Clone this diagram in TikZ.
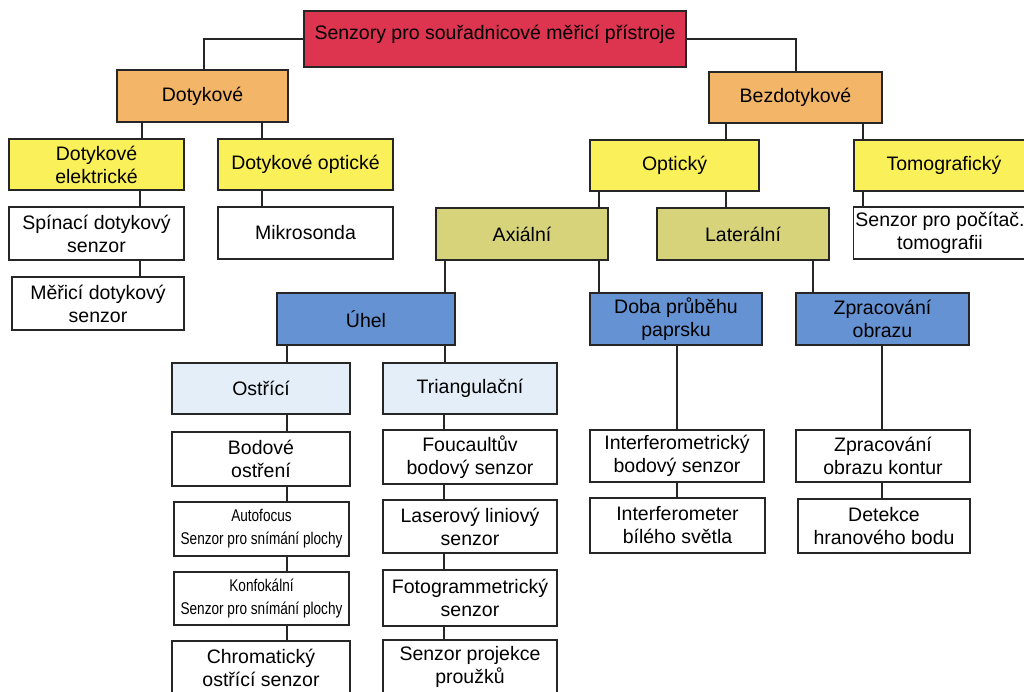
\documentclass[tikz,border=0pt]{standalone}
\usepackage{fontspec}
\setmainfont{Liberation Sans}
\newfontfamily\narrowsf[FakeStretch=0.8]{Liberation Sans}
\definecolor{rootRed}{HTML}{DD3550}
\definecolor{catOrange}{HTML}{F3B567}
\definecolor{grpYellow}{HTML}{FAF05A}
\definecolor{axOlive}{HTML}{D6D37A}
\definecolor{prinBlue}{HTML}{6492D2}
\definecolor{subBlue}{HTML}{E3EEF8}

\tikzset{
  box/.style={draw=black!85, line width=1.2pt, inner sep=2pt, align=center,
              minimum width=175pt, minimum height=53pt,
              font=\fontsize{19.5}{23}\selectfont},
  rootbox/.style={box, fill=rootRed, text height=14pt, text depth=13pt},
  catbox/.style={box, fill=catOrange},
  grpbox/.style={box, fill=grpYellow},
  axbox/.style={box, fill=axOlive},
  prinbox/.style={box, fill=prinBlue},
  subbox/.style={box, fill=subBlue},
  leafbox/.style={box, fill=white},
  narrowleaf/.style={leafbox, font=\narrowsf\fontsize{17}{23}\selectfont},
  link/.style={line width=1.2pt, draw=black!85},
}

\begin{document}
\begin{tikzpicture}[x=1pt,y=-1pt]
  \path[use as bounding box, clip] (0,0) rectangle (1024,691);
  \fill[white] (0,0) rectangle (1024,691);

  % top levels
  \node[rootbox, minimum width=382pt, minimum height=56pt] (root) at (495,39)
       {Senzory pro souřadnicové měřicí přístroje};
  \node[catbox, minimum width=171pt, minimum height=52pt] (dotyk) at (202.5,96) {Dotykové};
  \node[catbox, minimum width=173pt, minimum height=51pt] (bezdot) at (795.5,97.5) {Bezdotykové};

  % contact branch
  \node[grpbox, minimum height=51pt] (delek) at (96.5,164.5) {Dotykové\\elektrické};
  \node[grpbox, minimum height=51pt] (dopt) at (305.5,164.5) {Dotykové optické};
  \node[leafbox] (spinaci) at (96.5,233.5) {Spínací dotykový\\senzor};
  \node[leafbox, minimum width=172pt] (merici) at (98,303.5) {Měřicí dotykový\\senzor};
  \node[leafbox, minimum height=52pt] (mikro) at (305.5,233) {Mikrosonda};

  % contactless branch
  \node[grpbox, minimum width=169pt, minimum height=51pt] (optic) at (674.5,165.5) {Optický};
  \node[grpbox, minimum width=180pt, minimum height=51pt] (tomo) at (944,165.5) {Tomografický};
  \node[axbox, minimum width=172pt, minimum height=52pt] (axial) at (522,234) {Axiální};
  \node[axbox, minimum width=172pt, minimum height=52pt] (lateral) at (743,234) {Laterální};
  \node[leafbox, minimum width=170pt, minimum height=52pt] (tomosenz) at (940,233)
       {Senzor pro počítač.\\tomografii};

  \node[prinbox, minimum width=178pt, minimum height=52pt] (uhel) at (366,319) {Úhel};
  \node[prinbox, minimum width=172pt, minimum height=52pt] (doba) at (676,319) {Doba průběhu\\paprsku};
  \node[prinbox, minimum width=173pt, minimum height=52pt] (zprac) at (882.5,319) {Zpracování\\obrazu};

  \node[subbox, minimum width=178pt, minimum height=51pt] (ostrici) at (261,388.5) {Ostřící};
  \node[subbox, minimum width=174pt, minimum height=51pt] (triang) at (470,388.5) {Triangulační};

  % focusing sensors
  \node[leafbox, minimum width=178pt, minimum height=54pt] (bodove) at (261,459) {Bodové\\ostření};
  \node[narrowleaf, minimum height=54pt] (autof) at (261.5,529) {Autofocus\\Senzor pro snímání plochy};
  \node[narrowleaf, minimum height=53pt] (konf) at (261.5,598.5) {Konfokální\\Senzor pro snímání plochy};
  \node[leafbox, minimum width=178pt, minimum height=54pt] (chrom) at (261,668) {Chromatický\\ostřící senzor};

  % triangulation sensors
  \node[leafbox, minimum width=174pt, minimum height=54pt] (foucault) at (470,457) {Foucaultův\\bodový senzor};
  \node[leafbox, minimum width=174pt] (laser) at (470,526.5) {Laserový liniový\\senzor};
  \node[leafbox, minimum width=174pt, minimum height=56pt] (foto) at (470,598) {Fotogrammetrický\\senzor};
  \node[leafbox, minimum width=174pt, minimum height=54pt] (projekce) at (470,667) {Senzor projekce\\proužků};

  % time of flight / image processing
  \node[leafbox, minimum width=174pt, minimum height=52pt] (interf) at (677,456) {Interferometrický\\bodový senzor};
  \node[leafbox, minimum width=175pt, minimum height=55pt] (interm) at (677.5,525.5) {Interferometer\\bílého světla};
  \node[leafbox, minimum width=174pt, minimum height=52pt] (kontur) at (883,456) {Zpracování\\obrazu kontur};
  \node[leafbox, minimum width=172pt, minimum height=54pt] (detekce) at (884,526) {Detekce\\hranového bodu};

  % connectors
  \draw[link] (root.west) -| (dotyk.north -| 204,0);
  \draw[link] (root.east) -| (bezdot.north -| 796,0);
  \draw[link] (dotyk.south -| 142,0) -- (delek.north -| 142,0);
  \draw[link] (dotyk.south -| 262,0) -- (dopt.north -| 262,0);
  \draw[link] (delek.south -| 140,0) -- (spinaci.north -| 140,0);
  \draw[link] (spinaci.south -| 140,0) -- (merici.north -| 140,0);
  \draw[link] (dopt.south -| 262,0) -- (mikro.north -| 262,0);
  \draw[link] (bezdot.south -| 726,0) -- (optic.north -| 726,0);
  \draw[link] (bezdot.south -| 863,0) -- (tomo.north -| 863,0);
  \draw[link] (optic.south -| 599,0) -- (axial.north -| 599,0);
  \draw[link] (optic.south -| 726,0) -- (lateral.north -| 726,0);
  \draw[link] (tomo.south -| 863,0) -- (tomosenz.north -| 863,0);
  \draw[link] (axial.south -| 445,0) -- (uhel.north -| 445,0);
  \draw[link] (axial.south -| 599,0) -- (doba.north -| 599,0);
  \draw[link] (lateral.south -| 813,0) -- (zprac.north -| 813,0);
  \draw[link] (uhel.south -| 287,0) -- (ostrici.north -| 287,0);
  \draw[link] (uhel.south -| 445,0) -- (triang.north -| 445,0);
  \foreach \a/\b in {ostrici/bodove, bodove/autof, autof/konf, konf/chrom}
    \draw[link] (\a.south -| 287,0) -- (\b.north -| 287,0);
  \foreach \a/\b in {triang/foucault, foucault/laser, laser/foto, foto/projekce}
    \draw[link] (\a.south -| 444,0) -- (\b.north -| 444,0);
  \foreach \a/\b in {doba/interf, interf/interm}
    \draw[link] (\a.south -| 677,0) -- (\b.north -| 677,0);
  \foreach \a/\b in {zprac/kontur, kontur/detekce}
    \draw[link] (\a.south -| 882,0) -- (\b.north -| 882,0);
\end{tikzpicture}
\end{document}
